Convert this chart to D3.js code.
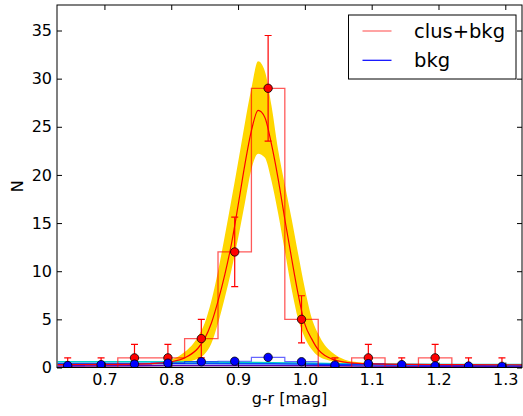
<!DOCTYPE html>
<html>
<head>
<meta charset="utf-8">
<script src="https://cdn.jsdelivr.net/npm/d3@7"></script>
<style>
  body { margin: 0; background: #fff; }
  text { font-family: "DejaVu Sans", sans-serif; }
</style>
</head>
<body>
<div id="chart"></div>
<script>
// bins (g-r) and counts
const binCenters = [0.645, 0.695, 0.745, 0.795, 0.845, 0.895, 0.945, 0.995, 1.045, 1.095, 1.145, 1.195, 1.245, 1.295];
const clusBkg = [0, 0, 1, 1, 3, 12, 29, 5, 0, 1, 0, 1, 0, 0];
const clusErr = [1, 1, 1.41, 1.41, 2, 3.61, 5.48, 2.45, 1, 1.41, 1, 1.41, 1, 1];
const bkg = [0.2, 0.3, 0.35, 0.45, 0.6, 0.65, 1.05, 0.6, 0.25, 0.4, 0.3, 0.17, 0.15, 0.12];

// fitted model and its band
const curveX = [0.63, 0.70, 0.76, 0.78, 0.80, 0.82, 0.84, 0.85, 0.86, 0.87, 0.88, 0.89, 0.90, 0.91, 0.92, 0.93, 0.94, 0.95, 0.96, 0.97, 0.98, 0.99, 1.00, 1.01, 1.02, 1.03, 1.04, 1.06, 1.08, 1.12, 1.20, 1.33];
const fitMid = [0.3, 0.32, 0.38, 0.45, 0.6, 1.0, 2.0, 3.0, 4.6, 6.9, 9.6, 12.8, 16.8, 21.0, 24.6, 26.7, 26.0, 23.2, 19.6, 15.4, 11.4, 7.6, 4.5, 3.0, 1.85, 1.25, 0.9, 0.55, 0.42, 0.35, 0.3, 0.28];
const fitHi = [0.35, 0.36, 0.42, 0.52, 0.8, 1.6, 3.2, 4.6, 6.9, 10.0, 13.6, 17.4, 21.3, 25.3, 29.0, 31.8, 30.8, 27.2, 22.6, 19.0, 15.5, 11.8, 8.2, 5.2, 3.5, 2.3, 1.6, 0.8, 0.55, 0.42, 0.35, 0.32];
const fitLo = [0.25, 0.28, 0.32, 0.35, 0.4, 0.55, 0.9, 1.4, 2.5, 4.6, 7.2, 10.1, 13.4, 17.0, 20.6, 22.2, 21.8, 19.4, 16.0, 12.1, 8.2, 5.0, 3.1, 1.9, 1.2, 0.85, 0.65, 0.45, 0.35, 0.3, 0.28, 0.26];

// background model lines
const bgX = [0.63, 0.75, 0.85, 0.95, 1.05, 1.15, 1.25, 1.33];
const bgHi = [0.6, 0.6, 0.58, 0.5, 0.4, 0.33, 0.3, 0.3];
const bgMid = [0.42, 0.42, 0.42, 0.38, 0.32, 0.25, 0.22, 0.2];
const bgLo = [0.15, 0.18, 0.22, 0.22, 0.17, 0.12, 0.1, 0.1];

const xTicks = [0.7, 0.8, 0.9, 1.0, 1.1, 1.2, 1.3];
const yTicks = [0, 5, 10, 15, 20, 25, 30, 35];

const W = 523, H = 416;
const margin = { top: 5, right: 1, bottom: 48.5, left: 57 };
const width = W - margin.left - margin.right;
const height = H - margin.top - margin.bottom;

const x = d3.scaleLinear().domain([0.629, 1.325]).range([0, width]);
const y = d3.scaleLinear().domain([0, 37.65]).range([height, 0]);

const svg = d3.select("#chart").append("svg")
  .attr("width", W).attr("height", H);
const g = svg.append("g")
  .attr("transform", `translate(${margin.left},${margin.top})`);

g.append("clipPath").attr("id", "clip")
  .append("rect").attr("width", width).attr("height", height);
const plot = g.append("g").attr("clip-path", "url(#clip)");

// band
const band = curveX.map((v, i) => ({ x: v, lo: fitLo[i], hi: fitHi[i] }));
plot.append("path")
  .datum(band)
  .attr("fill", "#ffd700")
  .attr("d", d3.area().curve(d3.curveMonotoneX)
    .x(d => x(d.x)).y0(d => y(d.lo)).y1(d => y(d.hi)));

// zero line
plot.append("line")
  .attr("x1", 0).attr("x2", width)
  .attr("y1", y(0)).attr("y2", y(0))
  .attr("stroke", "#999").attr("stroke-width", 2);

// background model lines
const bgLine = d3.line().curve(d3.curveMonotoneX).x((d, i) => x(bgX[i])).y(d => y(d));
plot.append("path").datum(bgHi).attr("fill", "none").attr("stroke", "#00d0c8").attr("stroke-width", 1.5).attr("d", bgLine);
plot.append("path").datum(bgLo).attr("fill", "none").attr("stroke", "#5a00b4").attr("stroke-width", 1.5).attr("d", bgLine);
plot.append("path").datum(bgMid).attr("fill", "none").attr("stroke", "#0050ff").attr("stroke-width", 1.5).attr("d", bgLine);

// step histograms
const step = d3.line().curve(d3.curveStep).x((d, i) => x(binCenters[i])).y(d => y(d));
plot.append("path").datum(bkg)
  .attr("fill", "none").attr("stroke", "blue").attr("stroke-opacity", 0.6)
  .attr("stroke-width", 1.2).attr("d", step);
plot.append("path").datum(clusBkg)
  .attr("fill", "none").attr("stroke", "red").attr("stroke-opacity", 0.65)
  .attr("stroke-width", 1.3).attr("d", step);

// fit curve
plot.append("path").datum(fitMid)
  .attr("fill", "none").attr("stroke", "red").attr("stroke-width", 1.2)
  .attr("d", d3.line().curve(d3.curveMonotoneX).x((d, i) => x(curveX[i])).y(d => y(d)));

// error bars
const errs = plot.append("g").attr("stroke", "red").attr("stroke-width", 1.2);
binCenters.forEach((c, i) => {
  const lo = y(clusBkg[i] - clusErr[i]), hi = y(clusBkg[i] + clusErr[i]);
  errs.append("line").attr("x1", x(c)).attr("x2", x(c)).attr("y1", lo).attr("y2", hi);
  errs.append("line").attr("x1", x(c) - 3.5).attr("x2", x(c) + 3.5).attr("y1", hi).attr("y2", hi);
  errs.append("line").attr("x1", x(c) - 3.5).attr("x2", x(c) + 3.5).attr("y1", lo).attr("y2", lo);
});

// points
plot.selectAll(".dot-red").data(clusBkg).enter().append("circle")
  .attr("cx", (d, i) => x(binCenters[i])).attr("cy", d => y(d)).attr("r", 4.2)
  .attr("fill", "red").attr("stroke", "#000").attr("stroke-width", 0.8);
plot.selectAll(".dot-blue").data(bkg).enter().append("circle")
  .attr("cx", (d, i) => x(binCenters[i])).attr("cy", d => y(d)).attr("r", 4.2)
  .attr("fill", "blue").attr("stroke", "#000").attr("stroke-width", 0.8);

// axes (ticks inside)
const fmtX = d3.format(".1f");
const xAxis = g.append("g").attr("transform", `translate(0,${height})`)
  .call(d3.axisBottom(x).tickValues(xTicks).tickFormat(fmtX).tickSizeInner(-5).tickSizeOuter(0).tickPadding(6));
const xTop = g.append("g")
  .call(d3.axisTop(x).tickValues(xTicks).tickFormat("").tickSizeInner(-5).tickSizeOuter(0));
const yAxis = g.append("g")
  .call(d3.axisLeft(y).tickValues(yTicks).tickSizeInner(-5).tickSizeOuter(0).tickPadding(5));
const yRight = g.append("g").attr("transform", `translate(${width},0)`)
  .call(d3.axisRight(y).tickValues(yTicks).tickFormat("").tickSizeInner(-5).tickSizeOuter(0));
[xAxis, xTop, yAxis, yRight].forEach(a => {
  a.select(".domain").remove();
  a.selectAll("text").style("font-size", "16px").attr("fill", "#000");
});

g.append("rect").attr("width", width).attr("height", height)
  .attr("fill", "none").attr("stroke", "#000").attr("stroke-width", 1);

// labels
g.append("text").attr("x", width / 2).attr("y", height + 36.5)
  .attr("text-anchor", "middle").style("font-size", "16px").text("g-r [mag]");
g.append("text").attr("transform", `translate(${-34},${height / 2}) rotate(-90)`)
  .attr("text-anchor", "middle").style("font-size", "16px").text("N");

// legend
const lg = svg.append("g").attr("transform", "translate(348.5,15)");
lg.append("rect").attr("width", 167.5).attr("height", 64)
  .attr("fill", "#fff").attr("stroke", "#000").attr("stroke-width", 1);
const legendItems = [
  { label: "clus+bkg", color: "red", op: 0.6 },
  { label: "bkg", color: "blue", op: 1 }
];
legendItems.forEach((d, i) => {
  const yy = 16 + i * 29.3;
  lg.append("line").attr("x1", 14).attr("x2", 43).attr("y1", yy).attr("y2", yy)
    .attr("stroke", d.color).attr("stroke-opacity", d.op).attr("stroke-width", 1.2);
  lg.append("text").attr("x", 65.5).attr("y", yy + 7).style("font-size", "19.5px").text(d.label);
});
</script>
</body>
</html>
